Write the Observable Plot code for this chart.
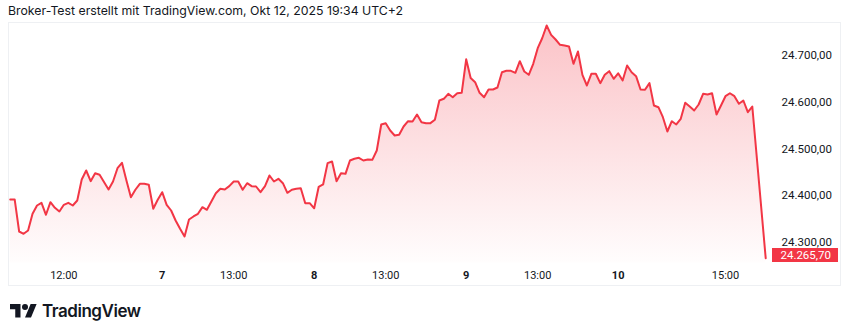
<!DOCTYPE html>
<html><head><meta charset="utf-8">
<script src="https://cdn.jsdelivr.net/npm/d3@7"></script>
<script src="https://cdn.jsdelivr.net/npm/@observablehq/plot@0.6"></script>
<style>
body{margin:0;background:#fff;}
#wrap{position:relative;width:850px;height:335px;overflow:hidden;background:#fff}
#title{position:absolute;left:8px;top:4px;font:12.3px Inter, "Noto Sans", sans-serif;color:#131722;white-space:nowrap;line-height:14px}
#frame{position:absolute;left:8px;top:22px;width:833px;height:264px;border:1px solid #eef0f3;box-sizing:border-box}
#chart{position:absolute;left:0;top:22px}
#logo{position:absolute;left:10px;top:300px;height:22px;display:flex;align-items:center}
#logo span{font:600 17px Inter, "Noto Sans", sans-serif;color:#131722;margin-left:5px;letter-spacing:-0.45px}
</style></head>
<body>
<div id="wrap">
  <div id="title">Broker-Test erstellt mit TradingView.com, Okt 12, 2025 19:34 UTC+2</div>
  <div id="frame"></div>
  <div id="chart"></div>
  <div id="logo"><svg width="27" height="21" viewBox="0 0 36 28"><path fill="#131722" d="M14 22H7V11H0V4h14v18zM28 22h-8l7.5-18h8L28 22z"/><circle fill="#131722" cx="20" cy="8" r="4"/></svg><span>TradingView</span></div>
</div>
<script>
// ---- data (15-minute closes, Xetra session 09:00-17:30) ----
const sessionDays = ["10-06", "10-07", "10-08", "10-09", "10-10"];
const times = [
 "10-06 09:00","10-06 09:15","10-06 09:30","10-06 09:45","10-06 10:00","10-06 10:15","10-06 10:30","10-06 10:45","10-06 11:00","10-06 11:15","10-06 11:30","10-06 11:45","10-06 12:00","10-06 12:15","10-06 12:30","10-06 12:45","10-06 13:00","10-06 13:15","10-06 13:30","10-06 13:45","10-06 14:00","10-06 14:30","10-06 14:45","10-06 15:00","10-06 15:15","10-06 15:30","10-06 15:45","10-06 16:00","10-06 16:15","10-06 16:30","10-06 16:45","10-06 17:00","10-06 17:15",
 "10-07 09:00","10-07 09:15","10-07 09:30","10-07 09:45","10-07 10:00","10-07 10:15","10-07 10:30","10-07 10:45","10-07 11:00","10-07 11:15","10-07 11:30","10-07 11:45","10-07 12:00","10-07 12:15","10-07 12:30","10-07 12:45","10-07 13:00","10-07 13:15","10-07 13:30","10-07 13:45","10-07 14:00","10-07 14:15","10-07 14:30","10-07 14:45","10-07 15:00","10-07 15:15","10-07 15:30","10-07 15:45","10-07 16:00","10-07 16:15","10-07 16:30","10-07 16:45","10-07 17:00","10-07 17:15",
 "10-08 09:00","10-08 09:15","10-08 09:30","10-08 09:45","10-08 10:00","10-08 10:15","10-08 10:30","10-08 10:45","10-08 11:00","10-08 11:15","10-08 11:30","10-08 11:45","10-08 12:00","10-08 12:15","10-08 12:30","10-08 12:45","10-08 13:00","10-08 13:15","10-08 13:30","10-08 13:45","10-08 14:00","10-08 14:15","10-08 14:30","10-08 14:45","10-08 15:00","10-08 15:15","10-08 15:30","10-08 15:45","10-08 16:00","10-08 16:15","10-08 16:30","10-08 16:45","10-08 17:00","10-08 17:15",
 "10-09 09:00","10-09 09:15","10-09 09:30","10-09 09:45","10-09 10:00","10-09 10:15","10-09 10:30","10-09 10:45","10-09 11:00","10-09 11:15","10-09 11:30","10-09 11:45","10-09 12:00","10-09 12:15","10-09 12:30","10-09 12:45","10-09 13:00","10-09 13:15","10-09 13:30","10-09 13:45","10-09 14:00","10-09 14:15","10-09 14:30","10-09 14:45","10-09 15:00","10-09 15:15","10-09 15:30","10-09 15:45","10-09 16:00","10-09 16:15","10-09 16:30","10-09 16:45","10-09 17:00","10-09 17:15",
 "10-10 09:00","10-10 09:15","10-10 09:30","10-10 09:45","10-10 10:00","10-10 10:15","10-10 10:30","10-10 10:45","10-10 11:00","10-10 11:15","10-10 11:30","10-10 11:45","10-10 12:00","10-10 12:15","10-10 12:30","10-10 12:45","10-10 13:00","10-10 13:15","10-10 13:30","10-10 13:45","10-10 14:00","10-10 14:15","10-10 14:30","10-10 14:45","10-10 15:00","10-10 15:15","10-10 15:30","10-10 15:45","10-10 16:00","10-10 16:15","10-10 16:30","10-10 17:15"
];
const prices = [
 24391.5,24391.5,24322.9,24318.0,24325.1,24360.8,24378.6,24384.4,24358.7,24385.7,24373.7,24365.8,24380.1,24384.4,24378.6,24389.3,24434.3,24453.6,24430.7,24447.8,24444.4,24412.9,24430.0,24458.5,24470.1,24432.2,24396.4,24412.3,24425.1,24425.1,24423.0,24371.6,24390.8,
 24407.1,24380.1,24367.9,24346.5,24328.7,24312.2,24348.6,24355.1,24360.8,24375.0,24369.4,24387.2,24405.0,24414.4,24412.9,24420.0,24430.0,24430.0,24412.3,24426.4,24420.0,24419.3,24407.1,24420.0,24442.9,24430.0,24435.8,24426.4,24405.8,24412.3,24414.4,24415.7,24383.6,24383.6,
 24372.6,24418.3,24423.6,24469.3,24472.9,24430.7,24447.8,24446.5,24475.0,24478.7,24480.8,24475.0,24477.2,24476.5,24496.5,24552.2,24555.0,24539.3,24528.6,24530.1,24547.9,24559.2,24558.6,24573.6,24557.1,24555.0,24555.0,24562.2,24603.6,24607.2,24617.9,24610.7,24619.2,24620.1,
 24691.9,24651.8,24642.8,24620.1,24610.7,24627.2,24627.2,24631.4,24664.2,24667.2,24667.2,24662.9,24687.8,24665.7,24658.6,24682.2,24715.6,24737.0,24764.3,24744.3,24734.3,24722.9,24721.4,24719.3,24682.2,24708.6,24658.6,24635.7,24660.8,24660.8,24640.7,24658.6,24666.4,24650.1,
 24661.8,24646.4,24678.6,24664.2,24655.7,24627.2,24626.5,24640.7,24592.9,24589.2,24567.8,24537.2,24559.2,24552.2,24564.4,24598.7,24590.7,24582.2,24595.0,24617.9,24616.5,24619.2,24573.6,24592.9,24612.8,24619.2,24612.8,24596.5,24603.6,24578.5,24590.7,24265.7
];
const priceTicks = [24300, 24400, 24500, 24600, 24700];
const timeTicks = ["10-06 12:00", "10-07 13:00", "10-08 13:00", "10-09 13:00", "10-10 15:00"];
const timeTickLabels = ["12:00", "13:00", "13:00", "13:00", "15:00"];
const dayTicks = ["10-07 09:00", "10-08 09:00", "10-09 09:00", "10-10 09:00"];
const dayTickLabels = ["7", "8", "9", "10"];
const lastPrice = prices[prices.length - 1];

// ---- helpers ----
const OPEN = 9, SESSION = 8.5;
function toPos(t) {
  const [d, hm] = t.split(" ");
  const [h, m] = hm.split(":").map(Number);
  return sessionDays.indexOf(d) * SESSION + (h + m / 60 - OPEN);
}
const de = d3.formatLocale({decimal: ",", thousands: ".", grouping: [3], currency: ["", "€"]});
const fmt = de.format(",.2f");
const data = times.map((t, i) => ({pos: toPos(t), price: prices[i]}));
const yLo = 24255.4, yHi = 24770.7;
const tPos = timeTicks.map(toPos), dPos = dayTicks.map(toPos);
const tLab = new Map(tPos.map((p, i) => [p, timeTickLabels[i]]));
const dLab = new Map(dPos.map((p, i) => [p, dayTickLabels[i]]));

const chart = Plot.plot({
  width: 850, height: 268,
  marginLeft: 8, marginRight: 78, marginTop: 0, marginBottom: 27.5,
  x: {domain: [-0.095, 42.63]},
  y: {domain: [yLo, yHi]},
  style: {fontFamily: "Roboto, sans-serif", fontSize: "11px", color: "#131722", background: "transparent", overflow: "visible"},
  marks: [
    () => {
      const defs = d3.create("svg:defs");
      const g = defs.append("linearGradient").attr("id", "areaGrad").attr("x1", 0).attr("x2", 0).attr("y1", 0).attr("y2", 1);
      g.append("stop").attr("offset", "0%").attr("stop-color", "#f23645").attr("stop-opacity", 0.3);
      g.append("stop").attr("offset", "100%").attr("stop-color", "#f23645").attr("stop-opacity", 0.01);
      return defs.node();
    },
    Plot.areaY(data, {x: "pos", y1: yLo, y2: "price", fill: "url(#areaGrad)"}),
    Plot.lineY(data, {x: "pos", y: "price", stroke: "#f23645", strokeWidth: 2}),
    Plot.axisY({anchor: "right", ticks: priceTicks, tickSize: 0, tickPadding: 9, tickFormat: fmt, fontSize: 11.5, label: null}),
    Plot.axisX({ticks: tPos, tickSize: 0, tickPadding: 8.5, tickFormat: d => tLab.get(d), label: null}),
    Plot.axisX({ticks: dPos, tickSize: 0, tickPadding: 8.5, tickFormat: d => dLab.get(d), fontWeight: "bold", label: null}),
    (index, scales, values, dims) => {
      const g = d3.create("svg:g");
      const y = scales.y(lastPrice);
      const bottom = dims.height - dims.marginBottom;
      const top = Math.min(y - 7, bottom - 14.5);
      const x0 = dims.width - dims.marginRight;
      g.append("rect").attr("x", x0).attr("y", top).attr("width", 66).attr("height", 14).attr("fill", "#f23645");
      g.append("text").attr("x", x0 + 59).attr("y", top + 7).attr("dy", "0.35em").attr("text-anchor", "end")
        .attr("fill", "#fff").attr("font-size", 11.5).text(fmt(lastPrice));
      return g.node();
    }
  ]
});
document.getElementById("chart").appendChild(chart);
</script>
</body></html>
